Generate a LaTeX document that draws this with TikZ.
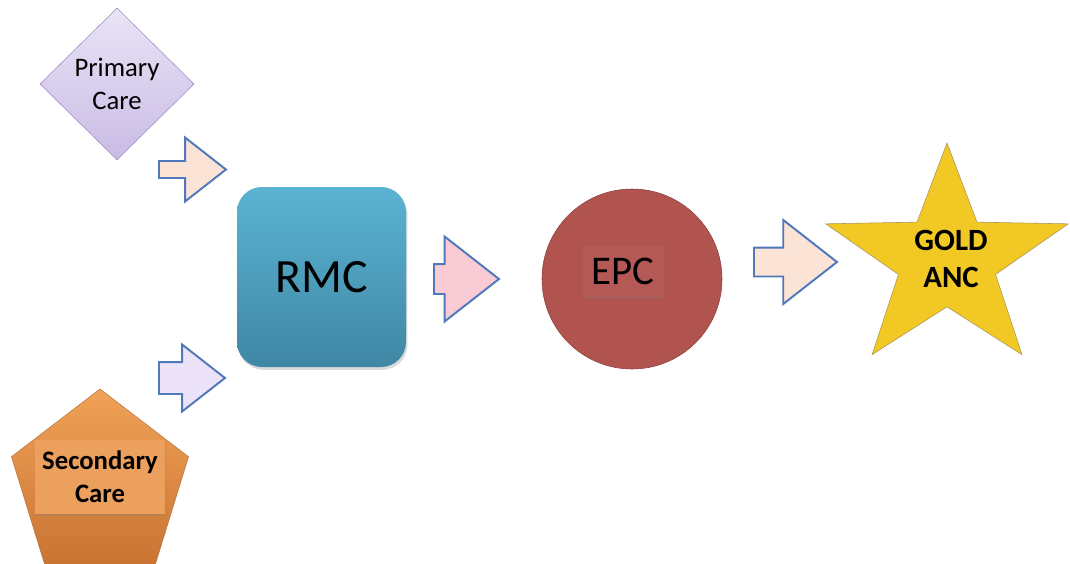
\documentclass[tikz,border=0pt]{standalone}
\usepackage{fontspec}
\setmainfont{Carlito}
\usetikzlibrary{positioning,shapes.geometric,shapes.arrows,shadows}
\definecolor{lilactop}{HTML}{EAE4F6}
\definecolor{lilacbot}{HTML}{C9BBE5}
\definecolor{lilacline}{HTML}{9C8EC6}
\definecolor{orangetop}{HTML}{F0A257}
\definecolor{orangebot}{HTML}{C97333}
\definecolor{orangebox}{HTML}{ECA05E}
\definecolor{orangeline}{HTML}{B87A45}
\definecolor{rmctop}{HTML}{5BB3D3}
\definecolor{rmcbot}{HTML}{3F87A4}
\definecolor{epcred}{HTML}{B15450}
\definecolor{epcline}{HTML}{8A3F3C}
\definecolor{epcbox}{HTML}{B45955}
\definecolor{gold}{HTML}{F2C924}
\definecolor{goldline}{HTML}{A8955E}
\definecolor{arrowblue}{HTML}{5079BB}
\definecolor{peach}{HTML}{FBE3D5}
\definecolor{lavender}{HTML}{EDE3F8}
\definecolor{pinkish}{HTML}{F9CBD5}
\newlength\pxu
\setlength\pxu{0.025cm}
\tikzset{
  blockarrow/.style={
    single arrow,
    draw=arrowblue,
    line width=1.4pt,
    single arrow tip angle=76,
    inner xsep=0pt,
    anchor=tail
  },
  txtbox/.style={
    rectangle,
    inner sep=0pt,
    drop shadow={opacity=0.3, shadow xshift=0.5pt, shadow yshift=-1.5pt}
  }
}
\begin{document}
\begin{tikzpicture}[x=0.025cm, y=-0.025cm]
    \useasboundingbox (0,0) rectangle (1070,564);
    % Sources
    \node[diamond, draw=lilacline, top color=lilactop, bottom color=lilacbot,
          minimum width=154\pxu, minimum height=152\pxu, inner sep=0pt,
          align=center, font=\fontsize{19}{23}\selectfont] (primary) at (117,84) {Primary\\Care};
    \node[regular polygon, regular polygon sides=5, draw=orangeline,
          top color=orangetop, bottom color=orangebot, minimum size=196\pxu,
          inner sep=0pt, xscale=0.95, transform shape] (secondary) at (100,487) {};
    \node[txtbox, fill=orangebox, minimum width=130\pxu, minimum height=74\pxu,
          align=center, font=\bfseries\fontsize{19}{23.5}\selectfont] (sectxt) at (100,477) {Secondary\\Care};

    % Block arrows
    \node[blockarrow, fill=peach, minimum height=67\pxu, inner ysep=7.5\pxu,
          single arrow head extend=23.5\pxu] (a1) at (158,169.5) {};
    \node[blockarrow, fill=lavender, minimum height=66\pxu, inner ysep=15\pxu,
          single arrow head extend=17.5\pxu] (a2) at (158,378) {};
    \node[blockarrow, fill=pinkish, minimum height=65\pxu, inner ysep=14\pxu,
          single arrow head extend=27.5\pxu] (a3) at (433,279) {};
    \node[blockarrow, fill=peach, minimum height=83\pxu, inner ysep=13.5\pxu,
          single arrow head extend=27.5\pxu] (a4) at (753,262) {};

    % RMC and EPC
    \node[rectangle, rounded corners=25\pxu, top color=rmctop, bottom color=rmcbot,
          minimum width=169\pxu, minimum height=180\pxu, inner sep=0pt,
          drop shadow={opacity=0.3, shadow xshift=1pt, shadow yshift=-2pt},
          font=\fontsize{34}{36}\selectfont] (rmc) at (321.5,277) {RMC};
    \node[circle, draw=epcline, fill=epcred, minimum size=180\pxu, inner sep=0pt] (epc) at (632,279) {};
    \node[txtbox, fill=epcbox, minimum width=80\pxu, minimum height=52\pxu,
          font=\fontsize{29}{30}\selectfont] (epctxt) at (623,271) {EPC};

    % Goal
    \node[star, star points=5, star point ratio=2.5, draw=goldline, fill=gold,
          minimum size=234\pxu, inner sep=0pt, xscale=1.09, transform shape] (gold) at (947,260) {};
    \node[align=center, font=\bfseries\fontsize{22}{26}\selectfont] (goldtxt) at (951,259) {GOLD\\ANC};
\end{tikzpicture}
\end{document}
